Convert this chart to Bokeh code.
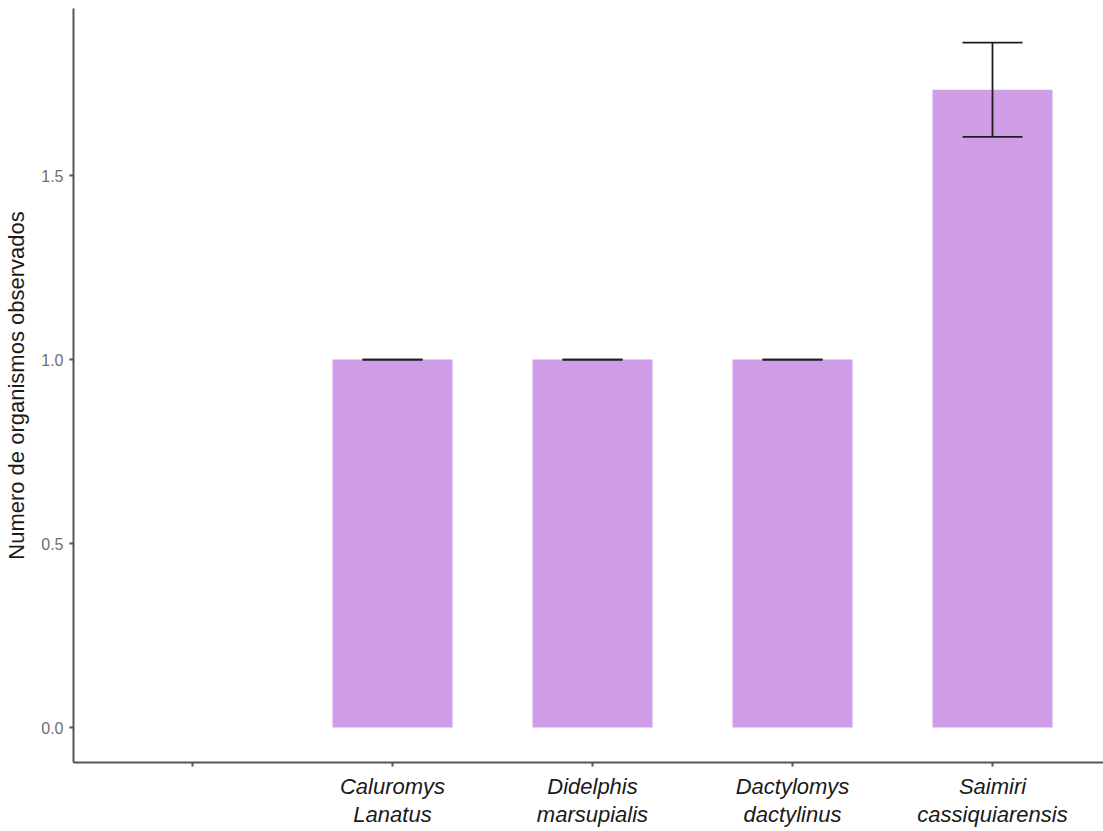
from bokeh.plotting import figure
from bokeh.models import (ColumnDataSource, Range1d, FixedTicker,
                          PrintfTickFormatter, Whisker, TeeHead)
from bokeh.embed import file_html
from bokeh.resources import INLINE

# Categories on the x axis (the first slot has no observation)
categories = ["", "Caluromys\nLanatus", "Didelphis\nmarsupialis",
              "Dactylomys\ndactylinus", "Saimiri\ncassiquiarensis"]

# Mean number of organisms observed and its standard error
species = categories[1:]
means = [1.0, 1.0, 1.0, 1.733]
errors = [0.0, 0.0, 0.0, 0.128]
y_ticks = [0.0, 0.5, 1.0, 1.5]

# discrete positions: category i sits at x = i + 1
positions = list(range(1, len(categories) + 1))
bar_x = [positions[categories.index(s)] for s in species]
upper = [m + e for m, e in zip(means, errors)]
lower = [m - e for m, e in zip(means, errors)]
source = ColumnDataSource(dict(x=bar_x, top=means, upper=upper, lower=lower))

p = figure(
    width=1103, height=831,
    x_range=Range1d(0.405, 5.555),
    y_range=Range1d(-0.0951, 1.954),
    output_backend="svg", toolbar_location=None,
    min_border_left=73, min_border_right=0, min_border_top=8,
    min_border_bottom=69,
)
p.outline_line_color = None
p.xgrid.grid_line_color = None
p.ygrid.grid_line_color = None
p.background_fill_color = "white"
p.border_fill_color = "white"

p.vbar(x="x", top="top", bottom=0, width=0.6, source=source,
       fill_color="#CF9EE7", line_color=None)

whisker = Whisker(
    base="x", upper="upper", lower="lower", source=source,
    line_color="#1e1e1e", line_width=1.8, level="overlay",
    upper_head=TeeHead(size=60, line_color="#1e1e1e", line_width=1.8),
    lower_head=TeeHead(size=60, line_color="#1e1e1e", line_width=1.8),
)
p.add_layout(whisker)

# Y axis
p.yaxis.ticker = FixedTicker(ticks=y_ticks)
p.yaxis.formatter = PrintfTickFormatter(format="%.1f")
p.yaxis.axis_label = "Numero de organismos observados"
p.yaxis.axis_label_text_font = "Liberation Sans"
p.yaxis.axis_label_text_font_style = "normal"
p.yaxis.axis_label_text_font_size = "22px"
p.yaxis.axis_label_text_color = "#1a1a1a"
p.yaxis.axis_label_standoff = 9
p.yaxis.major_label_text_font = "Liberation Sans"
p.yaxis.major_label_text_font_size = "16px"
p.yaxis.major_label_text_color = "#707070"
p.yaxis.major_label_standoff = 6

# X axis
p.xaxis.ticker = FixedTicker(ticks=positions)
p.xaxis.major_label_overrides = {pos: name for pos, name in zip(positions, categories)}
p.xaxis.major_label_text_font = "Liberation Sans"
p.xaxis.major_label_text_font_style = "italic"
p.xaxis.major_label_text_font_size = "22px"
p.xaxis.major_label_text_color = "#1a1a1a"
p.xaxis.major_label_text_line_height = 1.15
p.xaxis.major_label_standoff = 7

for ax in (p.xaxis, p.yaxis):
    ax.axis_line_color = "#555555"
    ax.axis_line_width = 2
    ax.major_tick_line_color = "#555555"
    ax.major_tick_line_width = 2
    ax.major_tick_in = 0
    ax.major_tick_out = 4
    ax.minor_tick_line_color = None

open("out.html", "w").write(file_html(p, INLINE))
